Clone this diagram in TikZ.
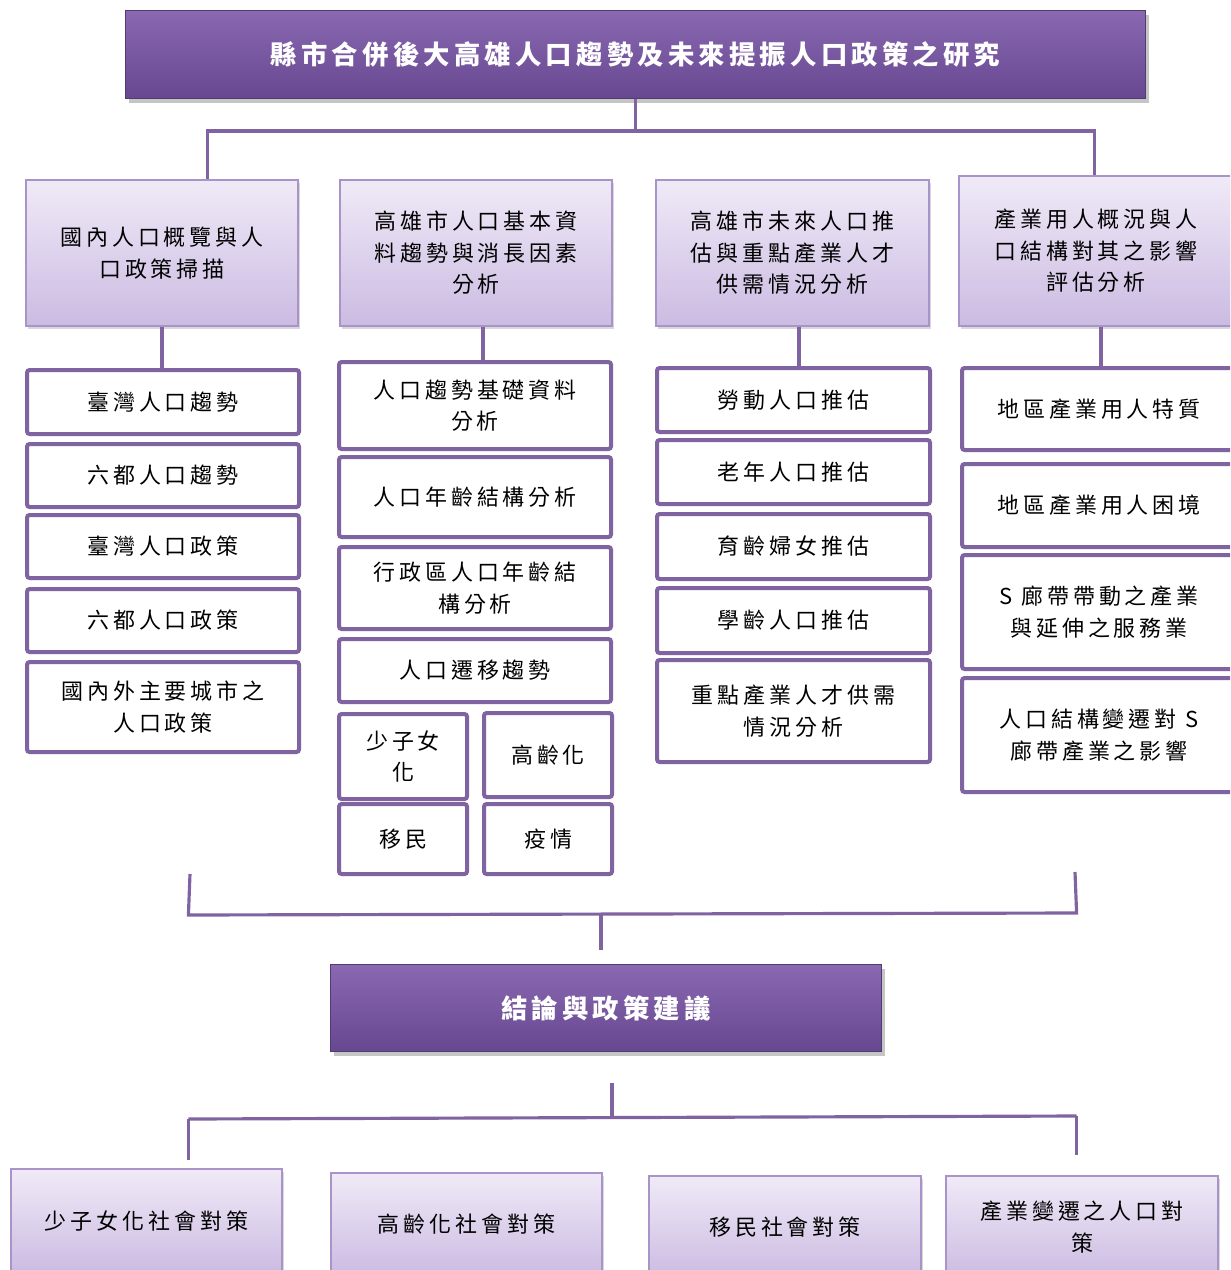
\documentclass[tikz,border=0pt]{standalone}
\usepackage{fontspec}
\usetikzlibrary{shadows,calc}
\newfontfamily\cjkbody[LetterSpace=18]{Noto Sans CJK TC}
\newfontfamily\cjktitle[LetterSpace=16]{Noto Sans CJK TC}
\definecolor{pline}{HTML}{8064A2}
\definecolor{dtop}{HTML}{8A68B2}
\definecolor{dbot}{HTML}{664890}
\definecolor{ltop}{HTML}{F0EAF7}
\definecolor{lbot}{HTML}{CBBBE2}
\definecolor{lbord}{HTML}{A993C9}
\tikzset{
  darkbox/.style={draw=dbot!80!black, line width=0.6pt, top color=dtop, bottom color=dbot,
    text=white, align=center, font=\cjktitle\bfseries\fontsize{15}{20}\selectfont,
    drop shadow={opacity=0.45, shadow xshift=0.06cm, shadow yshift=-0.08cm}},
  lavbox/.style={draw=lbord, line width=1.1pt, top color=ltop, bottom color=lbot,
    text=black, align=center, font=\cjkbody\fontsize{12.5}{18}\selectfont,
    drop shadow={opacity=0.3, shadow xshift=0.05cm, shadow yshift=-0.06cm}},
  whitebox/.style={draw=pline, line width=2.3pt, rounded corners=1.5pt, fill=white,
    text=black, align=center, font=\cjkbody\fontsize{12.5}{18}\selectfont},
  conn/.style={draw=pline, line width=1.8pt},
}
\newcommand\bx[7]{\node[#2, anchor=north west, inner sep=0pt,
  minimum width={(#5-#3)*0.02cm}, minimum height={(#6-#4)*0.02cm}] (#1) at (#3,#4) {#7};}
\begin{document}
\begin{tikzpicture}[x=0.02cm,y=-0.02cm]
\useasboundingbox (0,0) rectangle (1230,1270);
\clip (0,0) rectangle (1230,1270);
\fill[white] (0,0) rectangle (1230,1270);

% title
\bx{title}{darkbox}{125}{10}{1145}{98}{縣市合併後大高雄人口趨勢及未來提振人口政策之研究}

% level 1
\bx{la}{lavbox}{25}{179}{297}{325}{國內人口概覽與人\\口政策掃描}
\bx{lb}{lavbox}{339}{179}{611}{325}{高雄市人口基本資\\料趨勢與消長因素\\分析}
\bx{lc}{lavbox}{655}{179}{928}{325}{高雄市未來人口推\\估與重點產業人才\\供需情況分析}
\bx{ld}{lavbox}{958}{175}{1232}{325}{產業用人概況與人\\口結構對其之影響\\評估分析}

% top bracket
\coordinate (b1L) at (209,131);
\coordinate (b1R) at (1093,131);
\draw[conn] (title.south) -- (title.south |- b1L);
\draw[conn] ([xshift=-0.9pt]b1L |- la.north) -- ([xshift=-0.9pt]b1L) -- ([xshift=0.9pt]b1R) -- ([xshift=0.9pt]b1R |- ld.north);

% column 1
\bx{a1}{whitebox}{25}{368}{297}{432}{臺灣人口趨勢}
\bx{a2}{whitebox}{25}{442}{297}{505}{六都人口趨勢}
\bx{a3}{whitebox}{25}{513}{297}{576}{臺灣人口政策}
\bx{a4}{whitebox}{25}{587}{297}{650}{六都人口政策}
\bx{a5}{whitebox}{25}{660}{297}{750}{國內外主要城市之\\人口政策}

% column 2
\bx{b1}{whitebox}{337}{360}{609}{447}{人口趨勢基礎資料\\分析}
\bx{b2}{whitebox}{337}{455}{609}{535}{人口年齡結構分析}
\bx{b3}{whitebox}{337}{545}{609}{627}{行政區人口年齡結\\構分析}
\bx{b4}{whitebox}{337}{637}{609}{700}{人口遷移趨勢}
\bx{b5}{whitebox}{337}{712}{465}{797}{少子女\\化}
\bx{b6}{whitebox}{482}{711}{610}{795}{高齡化}
\bx{b7}{whitebox}{337}{802}{465}{872}{移民}
\bx{b8}{whitebox}{482}{802}{610}{872}{疫情}

% column 3
\bx{c1}{whitebox}{655}{366}{928}{430}{勞動人口推估}
\bx{c2}{whitebox}{655}{438}{928}{502}{老年人口推估}
\bx{c3}{whitebox}{655}{512}{928}{577}{育齡婦女推估}
\bx{c4}{whitebox}{655}{586}{928}{651}{學齡人口推估}
\bx{c5}{whitebox}{655}{658}{928}{760}{重點產業人才供需\\情況分析}

% column 4
\bx{d1}{whitebox}{960}{366}{1234}{448}{地區產業用人特質}
\bx{d2}{whitebox}{960}{462}{1234}{545}{地區產業用人困境}
\bx{d3}{whitebox}{960}{553}{1234}{667}{S 廊帶帶動之產業\\與延伸之服務業}
\bx{d4}{whitebox}{960}{676}{1234}{790}{人口結構變遷對 S\\廊帶產業之影響}

% column connectors
\coordinate (x1) at (162,0);
\coordinate (x2) at (483,0);
\coordinate (x3) at (799,0);
\coordinate (x4) at (1101,0);
\draw[conn] (x1 |- la.south) -- (x1 |- a1.north);
\draw[conn] (x2 |- lb.south) -- (x2 |- b1.north);
\draw[conn] (x3 |- lc.south) -- (x3 |- c1.north);
\draw[conn] (x4 |- ld.south) -- (x4 |- d1.north);

% conclusion
\bx{concl}{darkbox}{330}{964}{881}{1051}{結論與政策建議}

% middle bracket
\coordinate (t2L) at (190,874);
\coordinate (t2R) at (1075,872);
\coordinate (b2L) at (190,915);
\coordinate (b2R) at (1075,913);
\coordinate (m2) at (601,914);
\draw[conn] (t2L) -- ([xshift=-0.9pt]b2L) -- ([xshift=0.9pt]b2R) -- (t2R);
\draw[conn, shorten >=0.28cm] (m2) -- (m2 |- concl.north);

% bottom boxes
\bx{r1}{lavbox}{10}{1168}{281}{1272}{少子女化社會對策}
\bx{r2}{lavbox}{330}{1172}{601}{1274}{高齡化社會對策}
\bx{r3}{lavbox}{648}{1175}{920}{1277}{移民社會對策}
\bx{r4}{lavbox}{945}{1175}{1217}{1277}{產業變遷之人口對\\策}

% bottom bracket
\coordinate (m3) at (612,1118);
\coordinate (b3L) at (190,1119);
\coordinate (b3R) at (1075,1116);
\draw[conn, shorten <=0.62cm] (m3 |- concl.south) -- (m3);
\draw[conn] ([xshift=-0.9pt]b3L) -- ([xshift=0.9pt]b3R);
\draw[conn, shorten >=0.16cm] ([xshift=-0.9pt]b3L) -- ([xshift=-0.9pt]b3L |- r1.north);
\draw[conn, shorten >=0.4cm] ([xshift=0.9pt]b3R) -- ([xshift=0.9pt]b3R |- r4.north);
\end{tikzpicture}
\end{document}
